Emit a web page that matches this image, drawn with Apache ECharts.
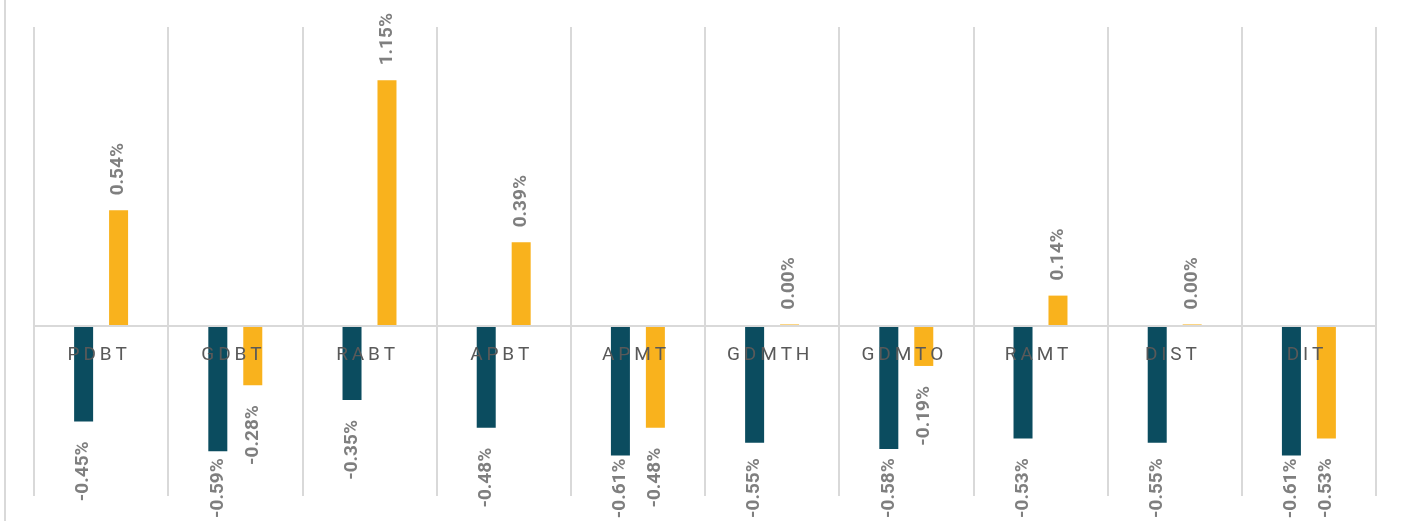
<!doctype html>
<html>
<head>
    <meta charset="utf-8">
    <title>chart</title>
    <script src="https://cdn.jsdelivr.net/npm/echarts@6/dist/echarts.min.js"></script>
    <style>
        body{
            margin:0;
            padding:0;
            background:#fff;
        }
        #main{
            width:1403px;
            height:521px;
        }
    </style>
</head>
<body>
<div id="main"></div>
<script>
    var categories = ['PDBT', 'GDBT', 'RABT', 'APBT', 'APMT', 'GDMTH', 'GDMTO', 'RAMT', 'DIST', 'DIT'];
    // values in percent
    var tealValues = [-0.45, -0.59, -0.35, -0.48, -0.61, -0.55, -0.58, -0.53, -0.55, -0.61];
    var orangeValues = [0.54, -0.28, 1.15, 0.39, -0.48, 0.00, -0.19, 0.14, 0.00, -0.53];

    var yMin = -0.8, yMax = 1.4;
    var gridTop = 27, gridBottom = 25, chartH = 521;
    var plotH = chartH - gridTop - gridBottom;

    var labelColor = '#7f7f7f';
    var gridColor = '#d9d9d9';
    var labelFont = 'bold 19px Roboto';

    var ctx = document.createElement('canvas').getContext('2d');
    ctx.font = labelFont;

    function fmt(v){ return v.toFixed(2) + '%'; }

    // each item gets its label placed outside the end of the bar;
    // negative labels are pulled up when they would run off the bottom edge
    function buildData(values){
        return values.map(function(v){
            var neg = v < 0;
            var dist = neg ? 20 : 15;
            if (neg) {
                var barEnd = gridTop + plotH * (yMax - v) / (yMax - yMin);
                var room = 518 - barEnd - ctx.measureText(fmt(v)).width;
                dist = Math.max(3, Math.min(20, room));
            }
            return {
                value: v,
                label: {
                    position: neg ? 'bottom' : 'top',
                    align: neg ? 'right' : 'left',
                    distance: dist
                }
            };
        });
    }

    function barSeries(name, color, values){
        return {
            name: name,
            type: 'bar',
            barWidth: 19,
            barGap: '84%',
            barMinHeight: 1,
            itemStyle: { color: color },
            label: {
                show: true,
                rotate: 90,
                verticalAlign: 'middle',
                color: labelColor,
                fontFamily: 'Roboto',
                fontWeight: 'bold',
                fontSize: 19,
                formatter: function(p){ return fmt(p.value); }
            },
            data: buildData(values)
        };
    }

    // the category labels sit just under the zero line, not at the grid bottom
    var zeroFromBottom = plotH * (0 - yMin) / (yMax - yMin);

    var chart = echarts.init(document.getElementById('main'));
    var option = {
        animation: false,
        grid: {
            left: 34,
            right: 27,
            top: gridTop,
            bottom: gridBottom,
            outerBoundsMode: 'none',
            containLabel: false
        },
        graphic: [{
            type: 'line',
            shape: { x1: 5, y1: 0, x2: 5, y2: 521 },
            style: { stroke: gridColor, lineWidth: 2 }
        }],
        xAxis: {
            type: 'category',
            data: categories,
            z: 5,
            axisLine: { onZero: true, lineStyle: { color: gridColor, width: 2 } },
            axisTick: { show: false },
            splitLine: { show: true, lineStyle: { color: gridColor, width: 2 } },
            axisLabel: {
                color: '#595959',
                fontFamily: 'Roboto',
                fontSize: 19,
                margin: 20 - zeroFromBottom,
                // letter-spaced look of the original, with thin spaces
                formatter: function(v){ return v.split('').join('\u2009') + '\u2009\u2009'; }
            }
        },
        yAxis: {
            type: 'value',
            min: yMin,
            max: yMax,
            show: false,
            splitLine: { show: false }
        },
        series: [
            barSeries('A', '#0b4c5f', tealValues),
            barSeries('B', '#f9b21d', orangeValues)
        ]
    };
    chart.setOption(option);
</script>
</body>
</html>
